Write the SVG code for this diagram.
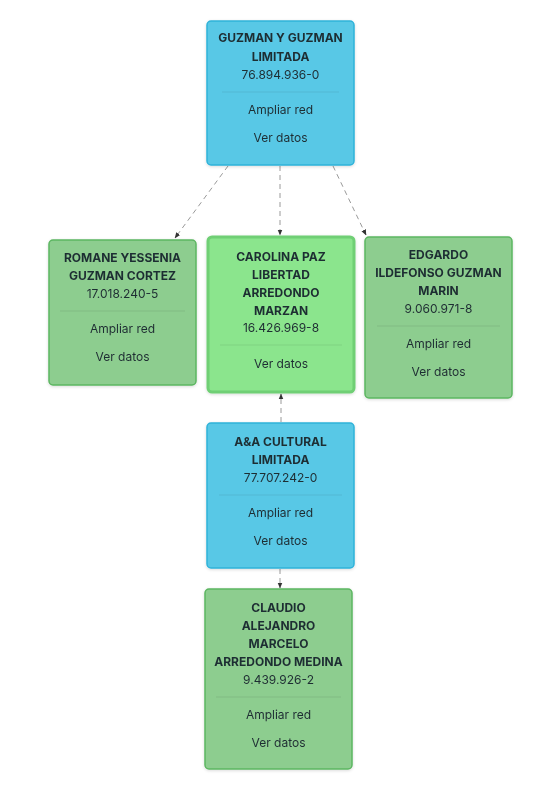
<svg xmlns="http://www.w3.org/2000/svg" width="552" height="800" viewBox="0 0 552 800">
<defs>
<style>
.t{font-family:Inter,"Noto Sans","Liberation Sans",sans-serif;font-size:12px;fill:#1f2d33;text-anchor:middle}
.b{font-weight:700}
.blue{fill:#58c8e6;stroke:#2fb2d9;stroke-width:1.5}
.green{fill:#8dcd8f;stroke:#5cb661;stroke-width:1.5}
.sel{fill:#8be58d;stroke:#6fcf74;stroke-width:3}
.div{stroke:#000;stroke-opacity:0.08;stroke-width:1}
.edge{stroke:#9a9a9a;stroke-width:1;stroke-dasharray:5,4;fill:none}
</style>
<marker id="arr" viewBox="0 0 10 10" refX="9" refY="5" markerWidth="6" markerHeight="6" orient="auto-start-reverse" markerUnits="userSpaceOnUse">
<path d="M0,1 L10,5 L0,9 z" fill="#333"/>
</marker>
<filter id="sh" x="-10%" y="-10%" width="120%" height="125%">
<feDropShadow dx="0" dy="1" stdDeviation="1.5" flood-color="#000" flood-opacity="0.15"/>
</filter>
</defs>
<rect width="552" height="800" fill="#ffffff"/>
<g id="connectors">
<line class="edge" x1="228" y1="166" x2="175" y2="238" marker-end="url(#arr)"/>
<line class="edge" x1="280" y1="166" x2="280" y2="235" marker-end="url(#arr)"/>
<line class="edge" x1="333" y1="166" x2="366" y2="235" marker-end="url(#arr)"/>
<line class="edge" x1="281" y1="422" x2="281" y2="394" marker-end="url(#arr)"/>
<line class="edge" x1="280" y1="569" x2="280" y2="588" marker-end="url(#arr)"/>
</g>
<g id="n-guzman" filter="url(#sh)">
<rect class="blue" x="207" y="21" width="147" height="144" rx="4"/>
<text class="t b" x="280.5" y="42">GUZMAN Y GUZMAN</text>
<text class="t b" x="280.5" y="61">LIMITADA</text>
<text class="t" x="280.5" y="79">76.894.936-0</text>
<line class="div" x1="222" y1="92" x2="339" y2="92"/>
<text class="t" x="280.5" y="114">Ampliar red</text>
<text class="t" x="280.5" y="142">Ver datos</text>
</g>
<g id="n-romane" filter="url(#sh)">
<rect class="green" x="49" y="240" width="147" height="145" rx="4"/>
<text class="t b" x="122.5" y="262">ROMANE YESSENIA</text>
<text class="t b" x="122.5" y="280">GUZMAN CORTEZ</text>
<text class="t" x="122.5" y="298">17.018.240-5</text>
<line class="div" x1="60" y1="311" x2="185" y2="311"/>
<text class="t" x="122.5" y="333">Ampliar red</text>
<text class="t" x="122.5" y="361">Ver datos</text>
</g>
<g id="n-carolina" filter="url(#sh)">
<rect class="sel" x="208" y="237" width="146" height="155" rx="4"/>
<text class="t b" x="281" y="261">CAROLINA PAZ</text>
<text class="t b" x="281" y="279">LIBERTAD</text>
<text class="t b" x="281" y="297">ARREDONDO</text>
<text class="t b" x="281" y="315">MARZAN</text>
<text class="t" x="281" y="332">16.426.969-8</text>
<line class="div" x1="220" y1="345" x2="342" y2="345"/>
<text class="t" x="281" y="368">Ver datos</text>
</g>
<g id="n-edgardo" filter="url(#sh)">
<rect class="green" x="365" y="237" width="147" height="161" rx="4"/>
<text class="t b" x="438.5" y="259">EDGARDO</text>
<text class="t b" x="438.5" y="277">ILDEFONSO GUZMAN</text>
<text class="t b" x="438.5" y="295">MARIN</text>
<text class="t" x="438.5" y="313">9.060.971-8</text>
<line class="div" x1="377" y1="326" x2="500" y2="326"/>
<text class="t" x="438.5" y="348">Ampliar red</text>
<text class="t" x="438.5" y="376">Ver datos</text>
</g>
<g id="n-aa" filter="url(#sh)">
<rect class="blue" x="207" y="423" width="147" height="145" rx="4"/>
<text class="t b" x="280.5" y="446">A&amp;A CULTURAL</text>
<text class="t b" x="280.5" y="464">LIMITADA</text>
<text class="t" x="280.5" y="482">77.707.242-0</text>
<line class="div" x1="219" y1="495" x2="342" y2="495"/>
<text class="t" x="280.5" y="517">Ampliar red</text>
<text class="t" x="280.5" y="545">Ver datos</text>
</g>
<g id="n-claudio" filter="url(#sh)">
<rect class="green" x="205" y="589" width="147" height="180" rx="4"/>
<text class="t b" x="278.5" y="612">CLAUDIO</text>
<text class="t b" x="278.5" y="630">ALEJANDRO</text>
<text class="t b" x="278.5" y="648">MARCELO</text>
<text class="t b" x="278.5" y="666">ARREDONDO MEDINA</text>
<text class="t" x="278.5" y="684">9.439.926-2</text>
<line class="div" x1="216" y1="697" x2="341" y2="697"/>
<text class="t" x="278.5" y="719">Ampliar red</text>
<text class="t" x="278.5" y="747">Ver datos</text>
</g>
</svg>
